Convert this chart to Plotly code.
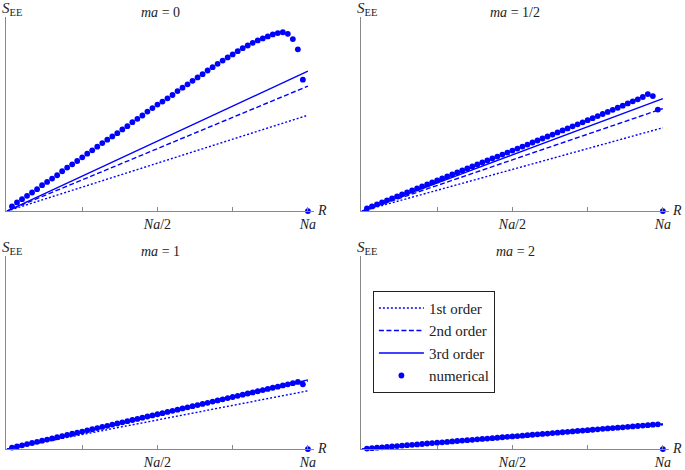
import plotly.graph_objects as go

W, H = 685, 470

# ---------------- data (arbitrary units of S_EE, R in lattice sites, N = 60) ----------------
R_points = list(range(1, 61))
R_line = [0, 60]

num_ma0 = [4.7, 8.7, 12.0, 15.3, 18.7, 22.0, 26.0, 29.3, 32.7, 36.0,
           40.0, 43.7, 47.0, 50.3, 54.0, 57.7, 61.0, 64.7, 68.3, 71.7,
           75.0, 78.3, 82.0, 85.3, 89.3, 92.7, 96.0, 100.0, 103.5, 107.0,
           110.0, 113.3, 116.6, 120.5, 124.0, 127.3, 130.8, 134.2, 137.5, 141.2,
           144.5, 147.9, 151.2, 154.3, 157.3, 160.6, 163.6, 166.3, 169.0, 171.4,
           173.4, 175.4, 177.4, 178.8, 179.6, 178.0, 172.8, 162.5, 132.0, 0.0]

num_ma05 = [2.6, 4.7, 6.8, 8.8, 10.8, 12.8, 14.8, 16.8, 18.8, 20.8,
            22.8, 24.8, 26.8, 28.8, 30.8, 32.8, 34.8, 36.8, 38.8, 40.8,
            42.8, 44.8, 46.8, 48.8, 50.8, 52.8, 54.8, 56.8, 58.8, 60.8,
            62.8, 64.8, 66.8, 68.9, 70.9, 72.9, 74.9, 76.9, 79.0, 81.0,
            83.0, 85.1, 87.1, 89.2, 91.3, 93.3, 95.4, 97.5, 99.6, 101.7,
            103.8, 105.9, 108.1, 110.2, 112.3, 114.6, 117.5, 115.5, 102.0, 0.0]

num_ma1 = [1.5, 2.6, 3.8, 5.0, 6.1, 7.3, 8.4, 9.6, 10.7, 11.9,
           13.0, 14.2, 15.4, 16.5, 17.6, 18.8, 19.9, 21.1, 22.3, 23.4,
           24.6, 25.7, 26.9, 28.0, 29.2, 30.3, 31.5, 32.7, 33.8, 35.0,
           36.1, 37.3, 38.4, 39.6, 40.8, 41.9, 43.1, 44.2, 45.4, 46.5,
           47.7, 48.9, 50.0, 51.2, 52.3, 53.5, 54.6, 55.8, 56.9, 58.1,
           59.3, 60.4, 61.6, 62.7, 63.9, 65.0, 66.2, 67.4, 65.0, 0.0]

num_ma2 = [0.5, 0.9, 1.4, 1.8, 2.2, 2.6, 3.0, 3.5, 3.9, 4.3,
           4.7, 5.1, 5.6, 6.0, 6.4, 6.8, 7.2, 7.7, 8.1, 8.5,
           8.9, 9.3, 9.8, 10.2, 10.6, 11.0, 11.4, 11.9, 12.3, 12.7,
           13.1, 13.5, 14.0, 14.4, 14.8, 15.2, 15.6, 16.1, 16.5, 16.9,
           17.3, 17.7, 18.2, 18.6, 19.0, 19.4, 19.8, 20.3, 20.7, 21.1,
           21.5, 21.9, 22.4, 22.8, 23.2, 23.6, 24.0, 24.5, 24.9, 0.0]

first_order = {"ma0": [0, 96.3], "ma05": [0, 83.7], "ma1": [0, 58.5], "ma2": [0, 24.4]}
second_order = {"ma0": [0, 125.5], "ma05": [0, 103.0], "ma1": [0, 68.5], "ma2": [0, 25.0]}
third_order = {"ma0": [0, 140.5], "ma05": [0, 113.0], "ma1": [0, 69.5], "ma2": [0, 25.3]}

panel_keys = ["ma0", "ma05", "ma1", "ma2"]
panel_titles = ["<i>ma</i> = 0", "<i>ma</i> = 1/2", "<i>ma</i> = 1", "<i>ma</i> = 2"]
numerical = {"ma0": num_ma0, "ma05": num_ma05, "ma1": num_ma1, "ma2": num_ma2}

tick_vals = [15, 30, 45, 60]
tick_text = ["", "<i>Na</i>/2", "", "<i>Na</i>"]

# ---------------- layout geometry (pixels) ----------------
# (y-axis x position, x-axis y position, top of y-axis)
panels_px = [(6, 212, 17), (362, 212, 17), (6, 451, 257), (362, 451, 257)]
x_len_px = 309
px_per_R = 5.03
x_off_px = 1.0
px_per_S = 1.0

BLUE = "#0000FF"
AXC = "#888888"
TXT = "#222222"
FONT = "Liberation Serif, Times New Roman, serif"

fig = go.Figure()

for i, key in enumerate(panel_keys):
    xa = "x" if i == 0 else f"x{i+1}"
    ya = "y" if i == 0 else f"y{i+1}"
    show = (i == 0)
    fig.add_trace(go.Scatter(x=R_line, y=first_order[key], mode="lines", xaxis=xa, yaxis=ya,
                             line=dict(color=BLUE, width=1.4, dash="2px,2px"),
                             name="1st order", showlegend=show, legendgroup="a", cliponaxis=False))
    fig.add_trace(go.Scatter(x=R_line, y=second_order[key], mode="lines", xaxis=xa, yaxis=ya,
                             line=dict(color=BLUE, width=1.4, dash="5px,2.5px"),
                             name="2nd order", showlegend=show, legendgroup="b", cliponaxis=False))
    fig.add_trace(go.Scatter(x=R_line, y=third_order[key], mode="lines", xaxis=xa, yaxis=ya,
                             line=dict(color=BLUE, width=1.4),
                             name="3rd order", showlegend=show, legendgroup="c", cliponaxis=False))
    fig.add_trace(go.Scatter(x=R_points, y=numerical[key], mode="markers", xaxis=xa, yaxis=ya,
                             marker=dict(color=BLUE, size=5.8, line=dict(width=0)),
                             name="numerical", showlegend=show, legendgroup="d", cliponaxis=False))

layout = dict(width=W, height=H, margin=dict(l=0, r=0, t=0, b=0), autosize=False,
              paper_bgcolor="white", plot_bgcolor="white",
              font=dict(family=FONT, size=14, color=TXT))

annotations = []
for i, (x0, yb, yt) in enumerate(panels_px):
    sx = "" if i == 0 else str(i + 1)
    r0 = -x_off_px / px_per_R
    r1 = r0 + x_len_px / px_per_R
    layout["xaxis" + sx] = dict(
        domain=[x0 / W, (x0 + x_len_px) / W], anchor="y" + sx,
        range=[r0, r1], showgrid=False, zeroline=False,
        showline=True, linecolor=AXC, linewidth=1,
        ticks="inside", ticklen=4, tickcolor=AXC, tickwidth=1,
        tickvals=tick_vals, ticktext=tick_text,
        tickfont=dict(family=FONT, size=14, color=TXT), fixedrange=True)
    layout["yaxis" + sx] = dict(
        domain=[1 - yb / H, 1 - yt / H], anchor="x" + sx,
        range=[0, (yb - yt) / px_per_S], showgrid=False, zeroline=False,
        showline=True, linecolor=AXC, linewidth=1, showticklabels=False, ticks="",
        fixedrange=True)
    annotations.append(dict(text="<i>S</i><sub>EE</sub>", xref="paper", yref="paper",
                            x=(x0 - 6) / W, y=1 - (yt - 8) / H, xanchor="left", yanchor="middle",
                            showarrow=False, font=dict(family=FONT, size=15, color=TXT)))
    annotations.append(dict(text="<i>R</i>", xref="paper", yref="paper",
                            x=(x0 + 317) / W, y=1 - (yb - 1) / H, xanchor="center", yanchor="middle",
                            showarrow=False, font=dict(family=FONT, size=14, color=TXT)))
    annotations.append(dict(text=panel_titles[i], xref="paper", yref="paper",
                            x=(x0 + 155) / W, y=1 - (yt - 4) / H, xanchor="center", yanchor="middle",
                            showarrow=False, font=dict(family=FONT, size=14, color=TXT)))

layout["annotations"] = annotations
layout["legend"] = dict(x=374 / W, y=1 - 292 / H, xanchor="left", yanchor="top",
                        bgcolor="white", bordercolor=TXT, borderwidth=1,
                        font=dict(family=FONT, size=15, color=TXT),
                        traceorder="normal", itemwidth=45)

fig.update_layout(**layout)
fig.write_html("out.html", config={"displayModeBar": False},
               post_script="document.body.style.margin='0px';document.body.style.padding='0px';")
